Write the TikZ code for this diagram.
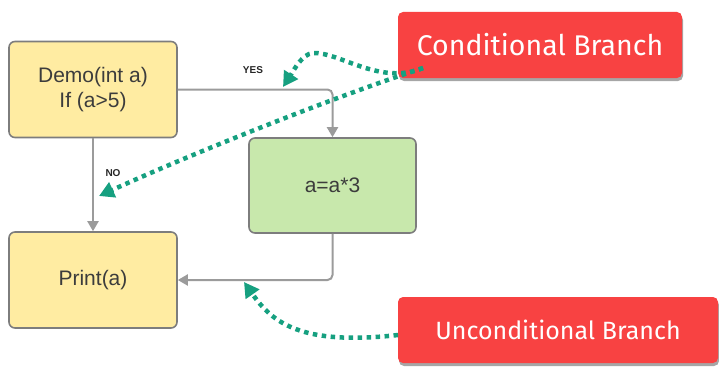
\documentclass[tikz,border=0pt]{standalone}
\usepackage{fontspec}
\setmainfont{Liberation Sans}
\newfontfamily\handfont{Fira Sans}
\usetikzlibrary{arrows.meta,shadows}
\definecolor{boxyellow}{RGB}{255,236,162}
\definecolor{boxgreen}{RGB}{200,232,172}
\definecolor{boxline}{RGB}{125,125,125}
\definecolor{flowgray}{RGB}{155,155,155}
\definecolor{notered}{RGB}{248,66,66}
\definecolor{noteteal}{RGB}{22,160,128}
\definecolor{txt}{RGB}{60,60,60}
\tikzset{
  stepbox/.style={draw=boxline, line width=1.6pt, rounded corners=6pt,
    minimum width=168pt, minimum height=96pt, align=center,
    font=\fontsize{21}{25}\selectfont, text=txt, inner sep=0pt},
  flow/.style={draw=flowgray, line width=2pt, rounded corners=5pt,
    -{Triangle[length=10pt,width=11pt]}},
  note/.style={fill=notered, rounded corners=5pt, text=white,
    font=\handfont\fontsize{26}{30}\selectfont, inner sep=0pt,
    drop shadow={shadow xshift=1pt, shadow yshift=-3pt, opacity=0.35, fill=black}},
  pointer/.style={draw=noteteal, line width=4.5pt, dash pattern=on 4.5pt off 4.5pt,
    -{Triangle[length=15pt,width=16pt,fill=noteteal]}},
  tag/.style={font=\bfseries\fontsize{10}{12}\selectfont, text=black!85, inner sep=0pt}
}
\begin{document}
\begin{tikzpicture}[x=1pt,y=-1pt]
  \useasboundingbox (0,0) rectangle (719,369);

  % flowchart boxes
  \node[stepbox, fill=boxyellow] (demo) at (93,89.5) {Demo(int a)\\If (a>5)};
  \node[stepbox, fill=boxyellow] (print) at (93,280) {Print(a)};
  \node[stepbox, fill=boxgreen, minimum width=167pt, minimum height=95pt] (mul) at (332.5,185.5) {a=a*3};

  % control flow
  \draw[flow] (demo.east) -| (mul.north);
  \draw[flow] (demo.south) -- (print.north);
  \draw[flow] (mul.south) |- (print.east);
  \node[tag] (yes) at (253,70) {YES};
  \node[tag] (no) at (113,173) {NO};

  % callouts
  \node[note, minimum width=284pt, minimum height=66pt,
        font=\handfont\fontsize{28.5}{30}\selectfont] (cond) at (540,45) {Conditional Branch};
  \node[note, minimum width=320pt, minimum height=66pt,
        font=\handfont\fontsize{25}{30}\selectfont] (uncond) at (558,330) {Unconditional Branch};

  % pointers from the callouts
  \coordinate (cstart) at (423,68);
  \coordinate (yestip) at (283,87);
  \coordinate (notip) at (99,196);
  \coordinate (ustart) at (398,335);
  \coordinate (utip) at (244,282);
  \draw[pointer] (cstart) .. controls (380,86) and (340,52) .. (313,53)
                          .. controls (302,54) and (294,70) .. (yestip);
  \draw[pointer] (cstart) .. controls (340,95) and (200,150) .. (notip);
  \draw[pointer] (ustart) .. controls (300,346) and (272,322) .. (utip);
\end{tikzpicture}
\end{document}
